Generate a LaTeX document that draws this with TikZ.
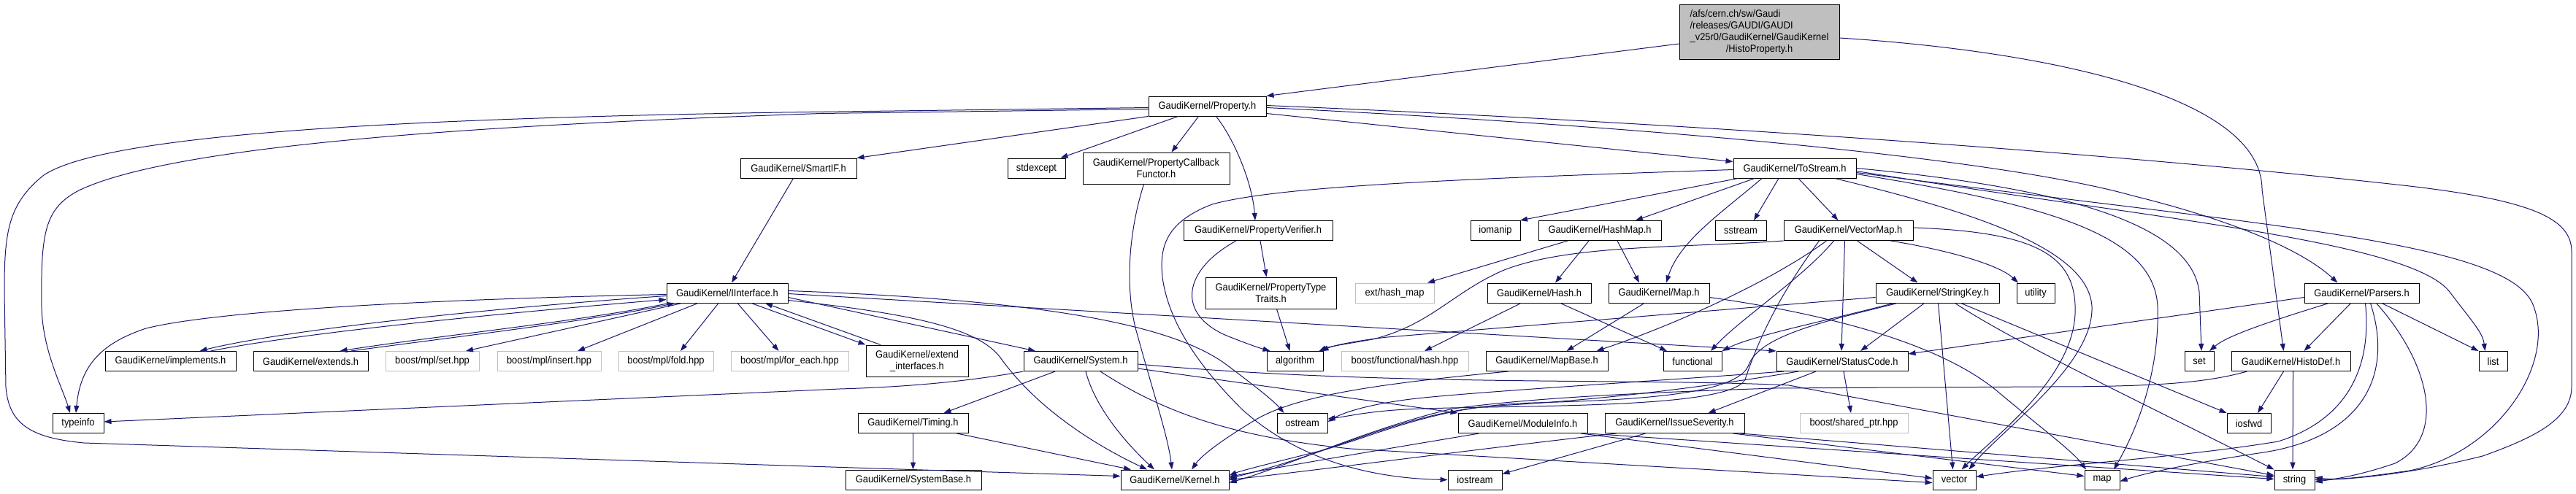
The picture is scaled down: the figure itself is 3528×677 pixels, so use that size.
\documentclass[tikz,border=0pt]{standalone}
\usepackage{fontspec}
\setmainfont{Liberation Sans}
\newfontfamily\dxfont[FakeStretch=0.92]{Liberation Sans}
\usetikzlibrary{arrows.meta}
\definecolor{edgeblue}{HTML}{191970}
\definecolor{graybd}{HTML}{BFBFBF}
\begin{document}
\begin{tikzpicture}[x=1pt,y=-1pt,
  nbox/.style={draw=black,line width=1pt,rectangle,inner sep=0pt,align=center,font=\dxfont\fontsize{14}{16}\selectfont},
  gbox/.style={nbox,draw=graybd},
  sz/.style 2 args={minimum width=#1pt,minimum height=#2pt},
  dep/.style={draw=edgeblue,line width=1pt,-{Triangle[length=10pt,width=7pt]}}]
\fill[white] (0,0) rectangle (3528,677);
\useasboundingbox (0,0) rectangle (3528,677);

% ---------- nodes ----------
\node[nbox,fill=graybd,sz={219}{74}] (root) at (2409.5,44) {\begin{tabular}{@{}l@{}}/afs/cern.ch/sw/Gaudi\\/releases/GAUDI/GAUDI\\\_v25r0/GaudiKernel/GaudiKernel\\\multicolumn{1}{@{}c@{}}{/HistoProperty.h}\end{tabular}};
\node[nbox,sz={161}{27}] (property) at (1653.5,145.5) {GaudiKernel/Property.h};
\node[nbox,sz={159}{27}] (smartif) at (1093.5,230.5) {GaudiKernel/SmartIF.h};
\node[nbox,sz={79}{27}] (stdexcept) at (1419.5,230.5) {stdexcept};
\node[nbox,sz={201}{43}] (callback) at (1583.5,230.5) {GaudiKernel/PropertyCallback\\Functor.h};
\node[nbox,sz={168}{27}] (tostream) at (2458,230.5) {GaudiKernel/ToStream.h};
\node[nbox,sz={204}{27}] (verifier) at (1723,316) {GaudiKernel/PropertyVerifier.h};
\node[nbox,sz={68}{27}] (iomanip) at (2048,316) {iomanip};
\node[nbox,sz={168}{27}] (hashmap) at (2191,316) {GaudiKernel/HashMap.h};
\node[nbox,sz={70}{27}] (sstream) at (2384,316) {sstream};
\node[nbox,sz={177}{27}] (vectormap) at (2531.5,316) {GaudiKernel/VectorMap.h};
\node[nbox,sz={166}{27}] (interface) at (996,401.5) {GaudiKernel/IInterface.h};
\node[nbox,sz={179}{43}] (typetraits) at (1740.5,401.5) {GaudiKernel/PropertyType\\Traits.h};
\node[gbox,sz={108}{27}] (hash_map) at (1910,401.5) {ext/hash\_map};
\node[nbox,sz={142}{27}] (hash) at (2108,401.5) {GaudiKernel/Hash.h};
\node[nbox,sz={138}{27}] (map_h) at (2272,401.5) {GaudiKernel/Map.h};
\node[nbox,sz={169}{27}] (stringkey) at (2653.5,401.5) {GaudiKernel/StringKey.h};
\node[nbox,sz={52}{27}] (utility) at (2788,401.5) {utility};
\node[nbox,sz={157}{27}] (parsers) at (3234.5,401.5) {GaudiKernel/Parsers.h};
\node[nbox,sz={179}{27}] (implements) at (233.5,495) {GaudiKernel/implements.h};
\node[nbox,sz={157}{27}] (extends) at (425.5,495) {GaudiKernel/extends.h};
\node[gbox,sz={128}{27}] (mplset) at (592,495) {boost/mpl/set.hpp};
\node[gbox,sz={142}{27}] (mplinsert) at (752,495) {boost/mpl/insert.hpp};
\node[gbox,sz={130}{27}] (mplfold) at (912,495) {boost/mpl/fold.hpp};
\node[gbox,sz={161}{27}] (mplforeach) at (1081.5,495) {boost/mpl/for\_each.hpp};
\node[nbox,sz={140}{43}] (extendif) at (1256,494.5) {GaudiKernel/extend\\\_interfaces.h};
\node[nbox,sz={156}{27}] (system) at (1480,495) {GaudiKernel/System.h};
\node[nbox,sz={77}{27}] (algorithm) at (1773.5,495) {algorithm};
\node[gbox,sz={174}{27}] (boosthash) at (1924,495) {boost/functional/hash.hpp};
\node[nbox,sz={167}{27}] (mapbase) at (2118.5,495) {GaudiKernel/MapBase.h};
\node[nbox,sz={80}{27}] (functional) at (2318,495) {functional};
\node[nbox,sz={180}{27}] (statuscode) at (2523,495) {GaudiKernel/StatusCode.h};
\node[nbox,sz={40}{27}] (nset) at (3012,495) {set};
\node[nbox,sz={163}{27}] (histodef) at (3137.5,495) {GaudiKernel/HistoDef.h};
\node[nbox,sz={39}{27}] (nlist) at (3414.5,495) {list};
\node[nbox,sz={70}{27}] (typeinfo) at (107,580) {typeinfo};
\node[nbox,sz={151}{27}] (timing) at (1250.5,580) {GaudiKernel/Timing.h};
\node[nbox,sz={69}{27}] (ostream) at (1783.5,580) {ostream};
\node[nbox,sz={177}{27}] (moduleinfo) at (2085.5,580) {GaudiKernel/ModuleInfo.h};
\node[nbox,sz={191}{27}] (issue) at (2293.5,580) {GaudiKernel/IssueSeverity.h};
\node[gbox,sz={148}{27}] (sharedptr) at (2539,580) {boost/shared\_ptr.hpp};
\node[nbox,sz={60}{27}] (iosfwd) at (3080,580) {iosfwd};
\node[nbox,sz={186}{27}] (systembase) at (1251,657.5) {GaudiKernel/SystemBase.h};
\node[nbox,sz={148}{27}] (kernel) at (1609,657.5) {GaudiKernel/Kernel.h};
\node[nbox,sz={74}{27}] (iostream) at (2020,657.5) {iostream};
\node[nbox,sz={59}{27}] (nvector) at (2676.5,657.5) {vector};
\node[nbox,sz={48}{27}] (nmap) at (2879,657.5) {map};
\node[nbox,sz={55}{27}] (nstring) at (3142.5,657.5) {string};

% ---------- root ----------
\draw[dep] ([yshift=-16pt]root.west) -- (property.north east);
\draw[dep] ([yshift=-8pt]root.east) .. controls (2800,70) and (3098,130) .. (3098,260) -- ([xshift=-10pt]histodef.north);

% ---------- Property.h ----------
\draw[dep] ([yshift=-2pt]property.west) -- (1071,154) .. controls (600,162) and (150,180) .. (60,240) .. controls (10,280) and (6,320) .. (6,400) -- (8,530) .. controls (12,580) and (40,600) .. (115,607) -- (1200,642) -- ([yshift=5pt]kernel.west);
\draw[dep] ([yshift=-4pt]property.west) -- (1125,155.5) .. controls (700,170) and (250,195) .. (110,260) .. controls (60,285) and (56,320) .. (57,420) .. controls (58,480) and (85,530) .. ([xshift=-11pt]typeinfo.north);
\draw[dep] (property.south west) -- (smartif.north east);
\draw[dep] ([xshift=-40pt]property.south) -- ([xshift=33pt]stdexcept.north);
\draw[dep] ([xshift=-12pt]property.south) -- ([xshift=21pt]callback.north);
\draw[dep] ([xshift=12pt]property.south) .. controls (1690,190) and (1715,250) .. ([xshift=-4pt]verifier.north);
\draw[dep] ([yshift=-10pt]property.east) -- ([yshift=9pt]tostream.west);
\draw[dep] ([yshift=1pt]property.east) .. controls (2300,168) and (2900,210) .. (3300,255) .. controls (3470,275) and (3522,300) .. (3522,345) -- (3522,530) .. controls (3522,575) and (3470,600) .. (3400,625) .. controls (3300,650) and (3220,657) .. (nstring.east);
\draw[dep] ([yshift=-2pt]property.east) .. controls (2300,175) and (2750,220) .. (2920,268) .. controls (3050,300) and (3150,340) .. ([xshift=-33pt]parsers.north);

% ---------- ToStream.h ----------
\draw[dep] ([xshift=-78pt]tostream.south) -- ([xshift=34pt]iomanip.north);
\draw[dep] ([xshift=-55pt]tostream.south) -- ([xshift=49pt]hashmap.north);
\draw[dep] ([xshift=-45pt]tostream.south) .. controls (2360,290) and (2300,330) .. ([xshift=10pt]map_h.north);
\draw[dep] ([xshift=-22pt]tostream.south) -- ([xshift=18pt]sstream.north);
\draw[dep] ([xshift=5pt]tostream.south) -- ([xshift=-14pt]vectormap.north);
\draw[dep] ([yshift=-2pt]tostream.west) .. controls (2000,245) and (1750,255) .. (1660,280) .. controls (1595,305) and (1588,340) .. (1592,380) .. controls (1600,440) and (1640,500) .. (1700,560) .. controls (1760,615) and (1850,655) .. (iostream.west);
\draw[dep] ([xshift=55pt]tostream.south) .. controls (2700,290) and (2860,340) .. (2865,420) .. controls (2868,500) and (2740,590) .. ([xshift=20pt]nvector.north);
\draw[dep] ([yshift=-8pt]tostream.east) .. controls (2800,280) and (2950,320) .. (2955,420) .. controls (2958,520) and (2920,600) .. ([xshift=16pt]nmap.north);
\draw[dep] (tostream.east) .. controls (2800,255) and (3000,300) .. (3012,400) -- ([xshift=3pt]nset.north);
\draw[dep] ([yshift=-4pt]tostream.east) .. controls (2950,300) and (3300,330) .. (3355,400) .. controls (3385,440) and (3400,455) .. ([xshift=-11pt]nlist.north);
\draw[dep] ([yshift=-6pt]tostream.east) .. controls (3100,310) and (3440,330) .. (3470,420) .. controls (3500,500) and (3420,620) .. (3300,645) .. controls (3230,655) and (3200,658) .. ([yshift=3pt]nstring.east);

% ---------- VectorMap.h ----------
\draw[dep] ([xshift=58pt]vectormap.south) .. controls (2680,345) and (2740,365) .. ([xshift=-24pt]utility.north);
\draw[dep] ([yshift=4pt]vectormap.east) .. controls (2790,318) and (2845,350) .. (2842,430) .. controls (2838,520) and (2730,600) .. ([xshift=10pt]nvector.north);
\draw[dep] ([xshift=12pt]vectormap.south) -- ([xshift=-27pt]stringkey.north);
\draw[dep] ([xshift=-5pt]vectormap.south) -- ([xshift=-1pt]statuscode.north);
\draw[dep] ([xshift=-20pt]vectormap.south) .. controls (2470,380) and (2380,440) .. ([xshift=25pt]functional.north);
\draw[dep] ([xshift=-30pt]vectormap.south) .. controls (2420,390) and (2280,450) .. ([xshift=68pt]mapbase.north);
\draw[dep] (vectormap.south west) .. controls (2300,340) and (2150,335) .. (2060,370) .. controls (1990,400) and (1960,445) .. (1880,465) .. controls (1840,472) and (1820,475) .. ([xshift=33pt]algorithm.north);
\draw[dep] ([xshift=-40pt]vectormap.south) .. controls (2440,400) and (2410,460) .. (2390,520) .. controls (2370,560) and (2100,555) .. (1950,560) .. controls (1880,562) and (1850,570) .. ([yshift=6pt]ostream.east);

% ---------- HashMap.h, Hash.h, Map.h, MapBase.h ----------
\draw[dep] ([xshift=24pt]hashmap.south) -- ([xshift=-27pt]map_h.north);
\draw[dep] ([xshift=-15pt]hashmap.south) -- ([xshift=22pt]hash.north);
\draw[dep] ([xshift=-44pt]hashmap.south) -- ([xshift=45pt]hash_map.north);
\draw[dep] ([xshift=-25pt]hash.south) -- ([xshift=27pt]boosthash.north);
\draw[dep] ([xshift=29pt]hash.south) -- ([xshift=-35pt]functional.north);
\draw[dep] ([xshift=-20pt]map_h.south) -- ([xshift=27pt]mapbase.north);
\draw[dep] ([yshift=-6pt]map_h.east) .. controls (2500,430) and (2660,470) .. (2740,540) .. controls (2800,590) and (2840,620) .. ([xshift=-22pt]nmap.north);
\draw[dep] ([xshift=-53pt]mapbase.south) .. controls (1900,525) and (1780,540) .. (1720,575) .. controls (1670,605) and (1645,625) .. ([xshift=23pt]kernel.north);

% ---------- StringKey.h ----------
\draw[dep] ([xshift=-18pt]stringkey.south) -- ([xshift=25pt]statuscode.north);
\draw[dep] ([xshift=1pt]stringkey.south) -- ([xshift=-2pt]nvector.north);
\draw[dep] ([xshift=24pt]stringkey.south) .. controls (2760,470) and (2950,560) .. (nstring.north west);
\draw[dep] ([xshift=32pt]stringkey.south) -- (iosfwd.north west);
\draw[dep] ([xshift=-60pt]stringkey.south) .. controls (2500,440) and (2400,460) .. (functional.north east);
\draw[dep] ([xshift=-55pt]stringkey.south) .. controls (2500,440) and (2410,460) .. (2395,500) .. controls (2380,540) and (2250,548) .. (2100,552) .. controls (1960,556) and (1880,600) .. (1800,620) .. controls (1740,635) and (1700,645) .. ([yshift=6pt]kernel.east);
\draw[dep] ([yshift=-6pt]stringkey.west) -- (1900,462) .. controls (1850,468) and (1825,474) .. ([xshift=36pt]algorithm.north);

% ---------- StatusCode.h ----------
\draw[dep] ([xshift=-36pt]statuscode.south) -- ([xshift=46pt]issue.north);
\draw[dep] ([xshift=2pt]statuscode.south) -- ([xshift=-4pt]sharedptr.north);
\draw[dep] ([xshift=-60pt]statuscode.south) .. controls (2350,528) and (2200,548) .. (2050,556) .. controls (1920,565) and (1830,620) .. ([yshift=2pt]kernel.east);
\draw[dep] ([xshift=-80pt]statuscode.south) .. controls (2300,520) and (2050,535) .. (1950,545) .. controls (1880,552) and (1840,565) .. ([yshift=2pt]ostream.east);

% ---------- Parsers.h ----------
\draw[dep] ([yshift=-6pt]parsers.west) -- ([yshift=10pt]statuscode.east);
\draw[dep] ([xshift=-45pt]parsers.south) .. controls (3110,440) and (3050,460) .. ([xshift=14pt]nset.north);
\draw[dep] ([xshift=-15pt]parsers.south) -- ([xshift=18pt]histodef.north);
\draw[dep] ([xshift=27.5pt]parsers.south) -- (nlist.north west);
\draw[dep] ([xshift=5pt]parsers.south) .. controls (3250,520) and (3200,580) .. (3120,605) .. controls (2980,628) and (2820,636) .. ([yshift=4pt]nvector.east);
\draw[dep] ([xshift=12pt]parsers.south) .. controls (3280,520) and (3230,600) .. (3100,620) .. controls (3000,635) and (2940,648) .. ([yshift=-2pt]nmap.east);
\draw[dep] ([xshift=20pt]parsers.south) .. controls (3330,500) and (3350,600) .. (3280,635) .. controls (3230,652) and (3200,656) .. ([yshift=-3pt]nstring.east);

% ---------- HistoDef.h ----------
\draw[dep] ([xshift=3pt]histodef.south) -- ([xshift=-2.5pt]nstring.north);
\draw[dep] ([xshift=-10pt]histodef.south) -- ([xshift=12pt]iosfwd.north);
\draw[dep] ([xshift=-60pt]histodef.south) .. controls (3020,525) and (2950,530) .. (2800,530) -- (2430,532) .. controls (2250,538) and (2100,545) .. (1990,560) .. controls (1880,585) and (1760,640) .. ([yshift=-4pt]kernel.east);

% ---------- IssueSeverity.h ----------
\draw[dep] ([xshift=-80pt]issue.south) .. controls (2050,612) and (1800,645) .. (kernel.east);
\draw[dep] ([xshift=-40pt]issue.south) -- ([yshift=8pt]iostream.east);
\draw[dep] ([xshift=80pt]issue.south) -- ([yshift=5pt]nmap.west);
\draw[dep] ([xshift=90pt]issue.south) -- ([yshift=4pt]nstring.west);

% ---------- ModuleInfo.h ----------
\draw[dep] ([xshift=-60pt]moduleinfo.south) .. controls (1900,615) and (1750,640) .. ([yshift=4pt]kernel.east);
\draw[dep] ([xshift=80pt]moduleinfo.south) -- ([yshift=2pt]nvector.west);
\draw[dep] (moduleinfo.south east) -- ([yshift=1pt]nstring.west);

% ---------- System.h ----------
\draw[dep] (system.south west) .. controls (1330,522) and (1250,530) .. (1150,533) -- ([yshift=2pt]typeinfo.east);
\draw[dep] ([xshift=-35pt]system.south) -- ([xshift=42pt]timing.north);
\draw[dep] ([xshift=7pt]system.south) .. controls (1500,560) and (1545,610) .. ([xshift=-28pt]kernel.north);
\draw[dep] ([yshift=-10pt]system.east) -- (moduleinfo.north west);
\draw[dep] ([xshift=27pt]system.south) .. controls (1600,570) and (1700,600) .. (1850,615) -- ([yshift=-4pt]nvector.west);
\draw[dep] ([yshift=-4pt]system.east) .. controls (1900,530) and (2250,518) .. (2450,528) -- ([yshift=6pt]nstring.west);

% ---------- Timing.h ----------
\draw[dep] (timing.south) -- (timing.south |- systembase.north);
\draw[dep] ([xshift=60pt]timing.south) -- ([xshift=-60pt]kernel.north);

% ---------- PropertyCallbackFunctor.h ----------
\draw[dep] ([xshift=-17pt]callback.south) .. controls (1545,320) and (1540,400) .. (1558,460) .. controls (1580,540) and (1600,600) .. ([xshift=-4pt]kernel.north);

% ---------- PropertyVerifier.h, PropertyTypeTraits.h ----------
\draw[dep] ([xshift=3pt]verifier.south) -- ([xshift=-6pt]typetraits.north);
\draw[dep] ([xshift=-30pt]verifier.south) .. controls (1620,370) and (1610,430) .. (1680,460) .. controls (1705,470) and (1722,476) .. ([xshift=-34pt]algorithm.north);
\draw[dep] ([xshift=8pt]typetraits.south) -- ([xshift=-7pt]algorithm.north);

% ---------- SmartIF.h ----------
\draw[dep] ([xshift=-7pt]smartif.south) -- ([xshift=6pt]interface.north);

% ---------- IInterface.h ----------
\draw[dep] ([yshift=-2pt]interface.west) .. controls (600,410) and (300,425) .. (200,450) .. controls (140,470) and (110,500) .. ([xshift=-3pt]typeinfo.north);
\draw[dep] ([yshift=-4pt]interface.west) .. controls (700,420) and (400,450) .. ([xshift=40pt]implements.north);
\draw[dep] ([xshift=55pt]implements.north) .. controls (420,455) and (700,428) .. ([yshift=-9pt]interface.west);
\draw[dep] ([xshift=-80pt]interface.south) .. controls (800,440) and (600,460) .. ([xshift=40pt]extends.north);
\draw[dep] ([xshift=55pt]extends.north) .. controls (620,462) and (810,440) .. ([xshift=-72pt]interface.south);
\draw[dep] ([xshift=-62pt]interface.south) -- ([xshift=46pt]mplset.north);
\draw[dep] ([xshift=-40pt]interface.south) -- ([xshift=39pt]mplinsert.north);
\draw[dep] ([xshift=-12pt]interface.south) -- ([xshift=20pt]mplfold.north);
\draw[dep] ([xshift=14pt]interface.south) -- ([xshift=-15pt]mplforeach.north);
\draw[dep] ([xshift=33pt]interface.south) -- (extendif.north west);
\draw[dep] ([xshift=-50pt]extendif.north) -- ([xshift=52pt]interface.south);
\draw[dep] ([yshift=-6pt]interface.east) -- ([xshift=-62pt]system.north);
\draw[dep] ([yshift=-1pt]interface.east) -- (statuscode.north west);
\draw[dep] ([yshift=-10pt]interface.east) .. controls (1250,430) and (1340,450) .. (1370,490) .. controls (1420,560) and (1500,610) .. ([xshift=-38pt]kernel.north);
\draw[dep] ([yshift=3pt]interface.east) .. controls (1400,410) and (1600,440) .. (1680,500) .. controls (1720,530) and (1745,550) .. ([xshift=-25pt]ostream.north);
\end{tikzpicture}
\end{document}
